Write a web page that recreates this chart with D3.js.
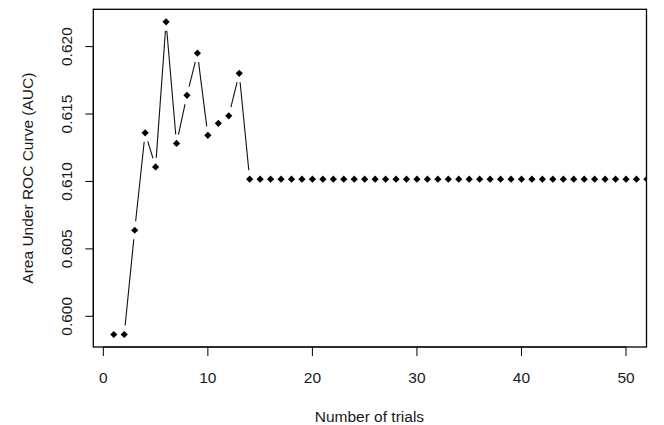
<!DOCTYPE html>
<html>
<head>
<meta charset="utf-8">
<script src="https://cdn.jsdelivr.net/npm/d3@7"></script>
<style>
  body { margin: 0; background: #fff; }
  svg text { font-family: "Liberation Sans", Arial, sans-serif; fill: #1a1a1a; }
</style>
</head>
<body>
<svg id="chart" width="664" height="425"></svg>
<script>
// trials 1..52 (later trials are clipped at the plot edge like in R)
const trials = d3.range(1, 53);
const firstAuc = [0.59865, 0.59865, 0.60638, 0.61361, 0.61108, 0.62184, 0.61282,
                  0.61639, 0.61951, 0.61342, 0.61431, 0.61487, 0.61802];
const plateauAuc = 0.61017;
const auc = trials.map((t, i) => i < firstAuc.length ? firstAuc[i] : plateauAuc);

const xTicks = [0, 10, 20, 30, 40, 50];
const yTicks = [0.600, 0.605, 0.610, 0.615, 0.620];
const xLimits = [1, 50];

const svg = d3.select("#chart");
const mLeft = 93.3, mRight = 646.5, mTop = 9.3, mBottom = 347;

// R style 4% range extension
const pad = (a, b) => [a - 0.04 * (b - a), b + 0.04 * (b - a)];
const yExt = d3.extent(auc);

const x = d3.scaleLinear().domain(pad(xLimits[0], xLimits[1])).range([mLeft, mRight]);
const y = d3.scaleLinear().domain(pad(yExt[0], yExt[1])).range([mBottom, mTop]);

svg.append("defs").append("clipPath").attr("id", "plotclip")
  .append("rect")
  .attr("x", mLeft).attr("y", mTop)
  .attr("width", mRight - mLeft).attr("height", mBottom - mTop);

const plot = svg.append("g").attr("clip-path", "url(#plotclip)");

// type = "b" : lines with gaps around points
const gap = 9;
for (let i = 0; i < trials.length - 1; i++) {
  const x1 = x(trials[i]), y1 = y(auc[i]);
  const x2 = x(trials[i + 1]), y2 = y(auc[i + 1]);
  const len = Math.hypot(x2 - x1, y2 - y1);
  if (len <= 2 * gap) continue;
  const ux = (x2 - x1) / len, uy = (y2 - y1) / len;
  plot.append("line")
    .attr("x1", x1 + ux * gap).attr("y1", y1 + uy * gap)
    .attr("x2", x2 - ux * gap).attr("y2", y2 - uy * gap)
    .attr("stroke", "#111")
    .attr("stroke-width", 1.1);
}

// pch 18 diamonds
const r = 3.6;
plot.selectAll("path.pt")
  .data(trials)
  .join("path")
  .attr("class", "pt")
  .attr("d", (d, i) => {
    const cx = x(d), cy = y(auc[i]);
    return `M${cx},${cy - r}L${cx + r},${cy}L${cx},${cy + r}L${cx - r},${cy}Z`;
  })
  .attr("fill", "#000");

// box
svg.append("rect")
  .attr("x", mLeft).attr("y", mTop)
  .attr("width", mRight - mLeft).attr("height", mBottom - mTop)
  .attr("fill", "none")
  .attr("stroke", "#000")
  .attr("stroke-width", 1.3);

// x axis
const xAxis = svg.append("g");
xAxis.append("line")
  .attr("x1", x(xTicks[0])).attr("x2", x(xTicks[xTicks.length - 1]))
  .attr("y1", mBottom).attr("y2", mBottom)
  .attr("stroke", "#000");
xAxis.selectAll("line.tick")
  .data(xTicks)
  .join("line")
  .attr("class", "tick")
  .attr("x1", d => x(d)).attr("x2", d => x(d))
  .attr("y1", mBottom).attr("y2", mBottom + 9)
  .attr("stroke", "#000");
xAxis.selectAll("text")
  .data(xTicks)
  .join("text")
  .attr("x", d => x(d))
  .attr("y", 382.5)
  .attr("text-anchor", "middle")
  .attr("font-size", 15.5)
  .text(d => d);

// y axis
const yAxis = svg.append("g");
yAxis.append("line")
  .attr("x1", mLeft).attr("x2", mLeft)
  .attr("y1", y(yTicks[0])).attr("y2", y(yTicks[yTicks.length - 1]))
  .attr("stroke", "#000");
yAxis.selectAll("line.tick")
  .data(yTicks)
  .join("line")
  .attr("class", "tick")
  .attr("x1", mLeft - 8).attr("x2", mLeft)
  .attr("y1", d => y(d)).attr("y2", d => y(d))
  .attr("stroke", "#000");
yAxis.selectAll("text")
  .data(yTicks)
  .join("text")
  .attr("transform", d => `translate(71.5,${y(d)}) rotate(-90)`)
  .attr("text-anchor", "middle")
  .attr("font-size", 15.5)
  .text(d => d3.format(".3f")(d));

// axis titles
svg.append("text")
  .attr("x", (mLeft + mRight) / 2 - 0.5)
  .attr("y", 421.5)
  .attr("text-anchor", "middle")
  .attr("font-size", 15.5)
  .text("Number of trials");

svg.append("text")
  .attr("transform", `translate(33,${(mTop + mBottom) / 2}) rotate(-90)`)
  .attr("text-anchor", "middle")
  .attr("font-size", 15.5)
  .text("Area Under ROC Curve (AUC)");
</script>
</body>
</html>
